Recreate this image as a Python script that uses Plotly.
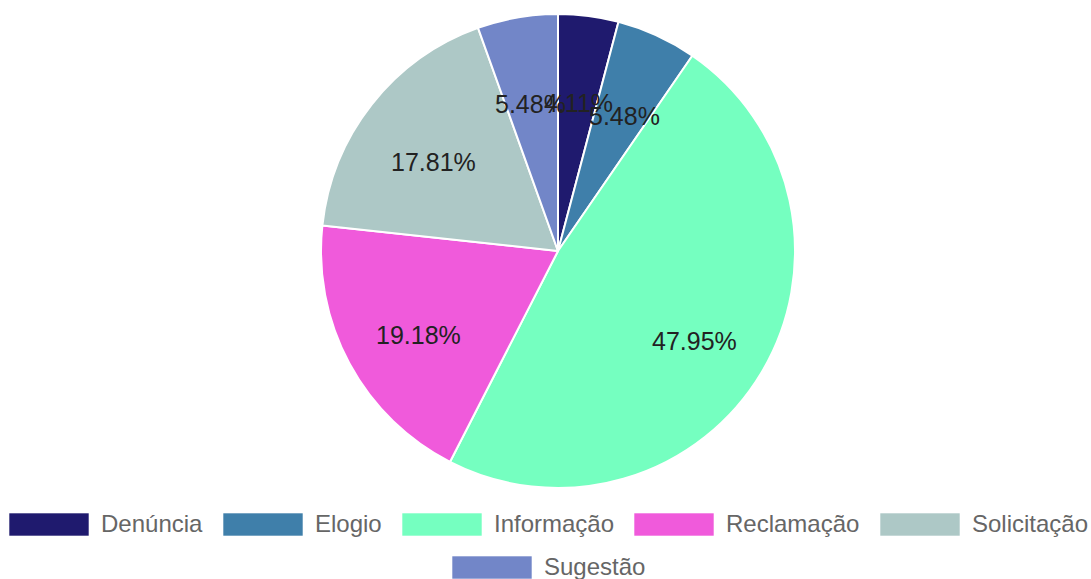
import math
import plotly.graph_objects as go

# ---- data ----
categories = ["Denúncia", "Elogio", "Informação", "Reclamação", "Solicitação", "Sugestão"]
counts = [3, 4, 35, 14, 13, 4]
colors = ["#1F1A6E", "#3F7FAA", "#75FFC0", "#F05ADB", "#ADC8C6", "#7286C8"]

W, H = 1091, 579
CX, CY, R = 558, 251, 237

fig = go.Figure()
fig.add_trace(go.Pie(
    labels=categories,
    values=counts,
    sort=False,
    direction="clockwise",
    rotation=0,
    marker=dict(colors=colors, line=dict(color="#ffffff", width=2)),
    textinfo="none",
    hoverinfo="label+percent",
    showlegend=False,
    domain=dict(x=[(CX - R) / W, (CX + R) / W], y=[(H - CY - R) / H, (H - CY + R) / H]),
))

# percentage labels, placed from the data
total = sum(counts)
cum = 0
annotations = []
for cat, v in zip(categories, counts):
    frac = v / total
    mid = (cum + frac / 2) * 2 * math.pi
    cum += frac
    rr = 0.67 * R
    px = CX + rr * math.sin(mid)
    py = CY - rr * math.cos(mid)
    annotations.append(dict(
        x=px / W, y=1 - py / H, xref="paper", yref="paper",
        text=f"{frac * 100:.2f}%", showarrow=False,
        xanchor="center", yanchor="middle", yshift=-9,
        font=dict(family="Liberation Sans, Arial", size=25, color="#222222"),
    ))

# legend (Chart.js style wide boxes)
legend_pos = [(9, 513), (223, 513), (402, 513), (634, 513), (880, 513), (452, 556)]
BOX_W, BOX_H = 80, 23
shapes = []
for (bx, by), cat, col in zip(legend_pos, categories, colors):
    shapes.append(dict(
        type="rect", xref="paper", yref="paper",
        x0=bx / W, x1=(bx + BOX_W) / W, y0=1 - (by + BOX_H) / H, y1=1 - by / H,
        fillcolor=col, line=dict(color="rgba(255,255,255,0.6)", width=1), layer="above",
    ))
    annotations.append(dict(
        x=(bx + BOX_W + 10) / W, y=1 - (by + BOX_H / 2) / H, xref="paper", yref="paper",
        text=cat, showarrow=False, xanchor="left", yanchor="middle", yshift=1,
        font=dict(family="Liberation Sans, Arial", size=24, color="#666666"),
    ))

fig.update_layout(
    width=W, height=H,
    margin=dict(l=0, r=0, t=0, b=0),
    paper_bgcolor="#ffffff",
    plot_bgcolor="#ffffff",
    annotations=annotations,
    shapes=shapes,
    showlegend=False,
)

fig.write_html(
    "out.html",
    config={"displayModeBar": False},
    post_script="document.body.style.margin='0';document.body.style.overflow='hidden';",
)
